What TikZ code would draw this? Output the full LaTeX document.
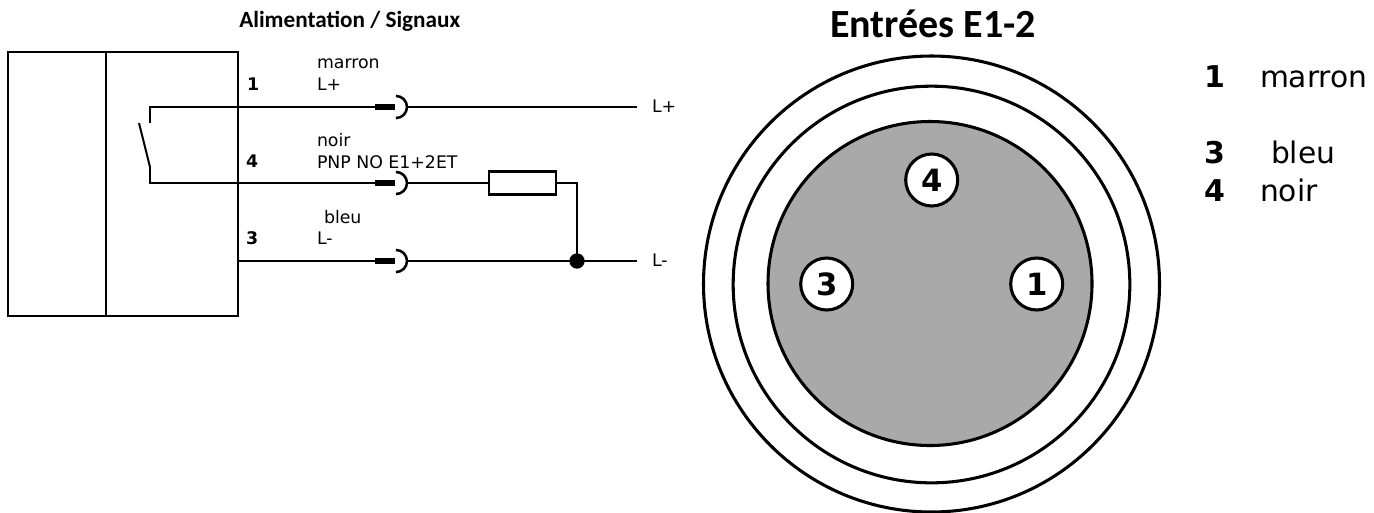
\documentclass[tikz,border=0pt]{standalone}
\usepackage{fontspec}
\setmainfont{DejaVu Sans}
\newfontfamily\titlefont{Carlito}
\begin{document}
\begin{tikzpicture}[x=0.75pt,y=-0.75pt,
  wire/.style={line width=1.9pt,black,line join=miter},
  ring/.style={circle,draw=black,line width=2.3pt,inner sep=0pt,outer sep=0pt},
  pin/.style={ring,fill=white,minimum size=39pt,font=\bfseries\fontsize{23}{24}\selectfont},
  boxpart/.style={draw=black,line width=1.9pt,inner sep=0pt,outer sep=0pt,anchor=north west},
  lab/.style={anchor=base west,inner sep=0pt,outer sep=0pt,font=\fontsize{13}{14}\selectfont},
  blab/.style={lab,font=\bfseries\fontsize{13}{14}\selectfont},
  leg/.style={anchor=base west,inner sep=0pt,outer sep=0pt,font=\fontsize{22.3}{24}\selectfont},
  bleg/.style={leg,font=\bfseries\fontsize{22.5}{24}\selectfont},
  jackbar/.style={fill=black,draw=none,minimum width=15pt,minimum height=4.5pt,inner sep=0pt,outer sep=0pt,anchor=west},
  jackarc/.style={line width=1.9pt}]
\useasboundingbox (0,0) rectangle (1374,512);
\clip (0,0) rectangle (1374,512);
% left box
\node[boxpart,minimum width=73.5pt,minimum height=198pt] (bL) at (8,52) {};
\node[boxpart,minimum width=99pt,minimum height=198pt] (bR) at (106,52) {};
% titles
\node[anchor=base west,inner sep=0pt,font=\titlefont\bfseries\fontsize{17.4}{18}\selectfont] (t1) at (239,27) {Alimentation / Signaux};
\node[anchor=base west,inner sep=0pt,font=\titlefont\bfseries\fontsize{30}{31}\selectfont] (t2) at (830,37) {Entrées E1-2};
% labels
\node[lab] (m) at (317,68) {marron};
\node[lab] (lp) at (317,90) {L+};
\node[blab] (n1) at (247,90) {1};
\node[lab] (no) at (317,146) {noir};
\node[lab] (pnp) at (317,168) {PNP NO E1+2ET};
\node[blab] (n4) at (246,167) {4};
\node[lab] (bl) at (324,223) {bleu};
\node[lab] (lm) at (317,244) {L-};
\node[blab] (n3) at (246,244) {3};
\node[lab] (outp) at (652,112) {L+};
\node[lab] (outm) at (652,266) {L-};
% jacks
\node[jackbar] (j1) at (375,107) {};
\node[jackbar] (j4) at (375,183) {};
\node[jackbar] (j3) at (375,261) {};
\coordinate (a1) at (407,107);
\coordinate (a4) at (407,183);
\coordinate (a3) at (407,261);
\foreach \n in {1,4,3}{
  \draw[jackarc] ([xshift=-8.3pt,yshift=8.3pt]a\n) arc[start angle=90,end angle=-90,radius=8.3pt];
}
% switch
\coordinate (s1) at (150,107);
\coordinate (s2) at (150,123);
\coordinate (s3) at (139,123);
\coordinate (s4) at (150,167);
\coordinate (s5) at (150,183);
\draw[wire] (j1.west) -- (s1) -- (s2);
\draw[wire,line width=1.5pt] (s3) -- (s4);
\draw[wire] (s4) -- (s5) -- (j4.west);
\coordinate (w3) at (238,261);
\draw[wire] (w3) -- (j3.west);
% outputs
\coordinate (e1) at (637,107);
\coordinate (e3) at (637,261);
\draw[wire] (a1) -- (e1);
\node[draw=black,line width=1.9pt,fill=white,minimum width=50pt,minimum height=17pt,inner sep=0pt,outer sep=0pt] (R) at (522.5,183) {};
\draw[wire] (a4) -- (R.west);
\node[circle,fill=black,minimum size=11.5pt,inner sep=0pt,outer sep=0pt] (dot) at (577,261) {};
\draw[wire] (R.east) -| (dot.center);
\draw[wire] (a3) -- (e3);
% connector
\node[ring,minimum size=342pt] (c1) at (931.5,284) {};
\node[ring,minimum size=297.5pt] (c2) at (931.5,284.5) {};
\node[ring,fill={rgb,255:red,169;green,169;blue,169},minimum size=243pt] (c3) at (930,283.5) {};
\node[pin] (p4) at (931.7,180) {4};
\node[pin] (p3) at (826.7,284) {3};
\node[pin] (p1) at (1036.7,284) {1};
% legend
\node[bleg] (l1) at (1204,87) {1};
\node[leg] (l1t) at (1260,87) {marron};
\node[bleg] (l3) at (1204,163) {3};
\node[leg] (l3t) at (1271,163) {bleu};
\node[bleg] (l4) at (1204,201) {4};
\node[leg] (l4t) at (1260,201) {noir};
\end{tikzpicture}
\end{document}
